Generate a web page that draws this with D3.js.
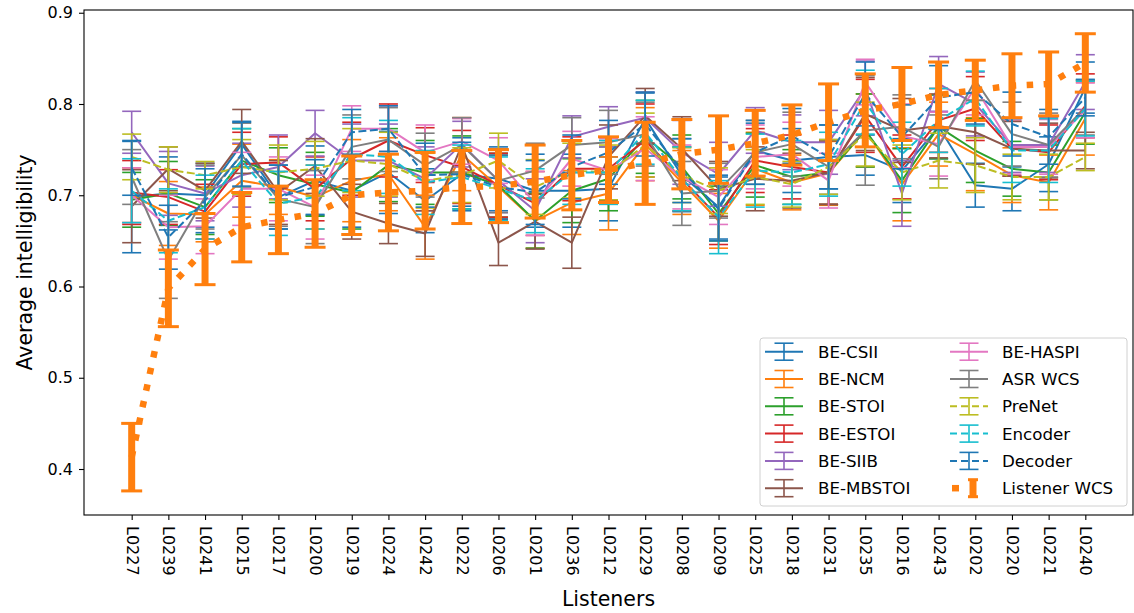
<!DOCTYPE html>
<html>
<head>
<meta charset="utf-8">
<script src="https://cdn.jsdelivr.net/npm/d3@7"></script>
<style>
  body { margin: 0; background: #fff; }
  svg { display: block; font-family: "DejaVu Sans", sans-serif; }
</style>
</head>
<body>
<div id="chart"></div>
<script>
// Listeners (x axis categories)
const listeners = ["L0227", "L0239", "L0241", "L0215", "L0217", "L0200", "L0219", "L0224", "L0242",
  "L0222", "L0206", "L0201", "L0236", "L0212", "L0229", "L0208", "L0209", "L0225", "L0218",
  "L0231", "L0235", "L0216", "L0243", "L0202", "L0220", "L0221", "L0240"];

// Means per series
const beCSII   = [0.698,0.702,0.700,0.756,0.698,0.716,0.705,0.725,0.694,0.723,0.718,0.705,0.705,0.707,0.784,0.722,0.687,0.749,0.738,0.742,0.744,0.727,0.775,0.711,0.707,0.734,0.818];
const beNCM    = [0.700,0.680,0.679,0.716,0.709,0.698,0.716,0.723,0.665,0.745,0.709,0.672,0.692,0.702,0.756,0.714,0.672,0.729,0.714,0.724,0.771,0.712,0.767,0.745,0.722,0.714,0.784];
const beSTOI   = [0.695,0.702,0.687,0.738,0.722,0.712,0.703,0.733,0.725,0.725,0.711,0.672,0.705,0.718,0.764,0.731,0.680,0.733,0.720,0.725,0.771,0.716,0.775,0.749,0.729,0.725,0.791];
const beESTOI  = [0.703,0.698,0.682,0.734,0.736,0.707,0.740,0.760,0.744,0.731,0.711,0.691,0.729,0.729,0.760,0.718,0.676,0.738,0.731,0.725,0.787,0.731,0.782,0.795,0.751,0.747,0.798];
const beSIIB   = [0.769,0.713,0.702,0.722,0.731,0.768,0.738,0.738,0.718,0.756,0.716,0.683,0.764,0.775,0.785,0.747,0.723,0.771,0.758,0.758,0.817,0.702,0.822,0.800,0.755,0.755,0.824];
const beMBSTOI = [0.688,0.729,0.705,0.759,0.703,0.732,0.682,0.669,0.658,0.755,0.648,0.671,0.648,0.742,0.787,0.751,0.707,0.718,0.716,0.725,0.789,0.771,0.776,0.769,0.751,0.749,0.749];
const beHASPI  = [0.700,0.665,0.666,0.707,0.707,0.687,0.773,0.773,0.747,0.759,0.738,0.691,0.740,0.727,0.751,0.720,0.698,0.742,0.745,0.716,0.824,0.765,0.756,0.818,0.753,0.753,0.793];
const asrWCS   = [0.720,0.629,0.698,0.744,0.696,0.687,0.753,0.761,0.733,0.755,0.716,0.727,0.755,0.758,0.767,0.702,0.705,0.747,0.756,0.731,0.771,0.775,0.753,0.826,0.767,0.755,0.796];
const preNet   = [0.742,0.728,0.722,0.731,0.725,0.729,0.738,0.734,0.716,0.722,0.738,0.709,0.727,0.725,0.755,0.722,0.705,0.720,0.712,0.731,0.767,0.725,0.738,0.733,0.720,0.720,0.742];
const encoder  = [0.705,0.672,0.687,0.738,0.691,0.698,0.745,0.742,0.714,0.720,0.707,0.694,0.725,0.725,0.769,0.718,0.676,0.727,0.725,0.734,0.802,0.745,0.782,0.806,0.749,0.749,0.795];
const decoder  = [0.730,0.654,0.694,0.745,0.698,0.709,0.769,0.773,0.722,0.723,0.709,0.703,0.731,0.747,0.778,0.727,0.685,0.747,0.765,0.742,0.811,0.764,0.807,0.813,0.778,0.764,0.807];
const listenerWCS = [0.413,0.598,0.641,0.665,0.673,0.680,0.700,0.703,0.705,0.709,0.710,0.715,0.722,0.728,0.735,0.745,0.750,0.757,0.766,0.780,0.793,0.800,0.810,0.815,0.820,0.822,0.845];

// Error bar half-lengths
const errCSII   = [0.061,0.040,0.035,0.025,0.035,0.038,0.040,0.045,0.035,0.040,0.035,0.040,0.040,0.035,0.028,0.040,0.035,0.030,0.035,0.035,0.022,0.035,0.035,0.024,0.024,0.030,0.028];
const errNCM    = [0.030,0.035,0.030,0.040,0.030,0.035,0.045,0.040,0.035,0.040,0.035,0.030,0.035,0.040,0.040,0.035,0.030,0.040,0.030,0.035,0.040,0.040,0.035,0.040,0.030,0.030,0.040];
const errSTOI   = [0.030,0.035,0.030,0.035,0.030,0.035,0.040,0.040,0.035,0.040,0.035,0.030,0.035,0.035,0.040,0.035,0.030,0.035,0.030,0.035,0.040,0.035,0.035,0.035,0.030,0.030,0.035];
const errESTOI  = [0.035,0.030,0.030,0.035,0.028,0.035,0.040,0.040,0.030,0.040,0.035,0.035,0.035,0.035,0.040,0.035,0.030,0.035,0.035,0.035,0.040,0.035,0.035,0.035,0.030,0.030,0.035];
const errSIIB   = [0.023,0.035,0.030,0.035,0.035,0.025,0.040,0.040,0.035,0.025,0.035,0.035,0.023,0.022,0.028,0.035,0.035,0.025,0.030,0.035,0.030,0.036,0.030,0.035,0.030,0.030,0.030];
const errMBSTOI = [0.040,0.024,0.030,0.035,0.035,0.030,0.030,0.022,0.025,0.030,0.025,0.030,0.028,0.035,0.030,0.035,0.030,0.035,0.030,0.035,0.040,0.035,0.035,0.035,0.030,0.030,0.020];
const errHASPI  = [0.030,0.035,0.030,0.040,0.035,0.035,0.025,0.025,0.030,0.025,0.025,0.035,0.030,0.035,0.035,0.035,0.030,0.035,0.035,0.030,0.025,0.035,0.035,0.030,0.030,0.030,0.030];
const errASR    = [0.030,0.042,0.035,0.035,0.030,0.040,0.035,0.035,0.035,0.030,0.035,0.030,0.030,0.035,0.035,0.035,0.030,0.035,0.035,0.030,0.060,0.035,0.035,0.022,0.035,0.035,0.030];
const errPreNet = [0.025,0.025,0.015,0.030,0.030,0.030,0.035,0.035,0.030,0.030,0.030,0.030,0.030,0.030,0.035,0.030,0.025,0.030,0.025,0.030,0.035,0.030,0.030,0.030,0.025,0.025,0.015];
const errEncoder = [0.035,0.035,0.035,0.035,0.035,0.035,0.040,0.040,0.035,0.035,0.035,0.035,0.035,0.035,0.035,0.035,0.040,0.040,0.035,0.035,0.035,0.035,0.035,0.030,0.035,0.035,0.030];
const errDecoder = [0.030,0.035,0.035,0.035,0.035,0.030,0.025,0.025,0.035,0.035,0.035,0.035,0.035,0.035,0.035,0.035,0.035,0.035,0.030,0.035,0.035,0.035,0.035,0.035,0.035,0.030,0.020];
const errListener = [0.037,0.042,0.039,0.038,0.037,0.037,0.043,0.042,0.042,0.040,0.040,0.040,0.038,0.036,0.045,0.038,0.037,0.036,0.033,0.042,0.040,0.040,0.036,0.033,0.035,0.035,0.032];

const yTicks = [0.4, 0.5, 0.6, 0.7, 0.8, 0.9];

const series = [
  {name: "BE-CSII",   mean: beCSII,   err: errCSII,   color: "#1f77b4", dash: null},
  {name: "BE-NCM",    mean: beNCM,    err: errNCM,    color: "#ff7f0e", dash: null},
  {name: "BE-STOI",   mean: beSTOI,   err: errSTOI,   color: "#2ca02c", dash: null},
  {name: "BE-ESTOI",  mean: beESTOI,  err: errESTOI,  color: "#d62728", dash: null},
  {name: "BE-SIIB",   mean: beSIIB,   err: errSIIB,   color: "#9467bd", dash: null},
  {name: "BE-MBSTOI", mean: beMBSTOI, err: errMBSTOI, color: "#8c564b", dash: null},
  {name: "BE-HASPI",  mean: beHASPI,  err: errHASPI,  color: "#e377c2", dash: null},
  {name: "ASR WCS",   mean: asrWCS,   err: errASR,    color: "#7f7f7f", dash: null},
  {name: "PreNet",    mean: preNet,   err: errPreNet, color: "#bcbd22", dash: "8,3.5"},
  {name: "Encoder",   mean: encoder,  err: errEncoder, color: "#17becf", dash: "8,3.5"},
  {name: "Decoder",   mean: decoder,  err: errDecoder, color: "#1f77b4", dash: "8,3.5"}
];
const listenerSeries = {name: "Listener WCS", mean: listenerWCS, err: errListener, color: "#ff7f0e"};

const W = 1134, H = 613;
const M = {LEFT: 84, RIGHT: 1133, TOP: 10, BOTTOM: 515};

const svg = d3.select("#chart").append("svg").attr("width", W).attr("height", H);
svg.append("rect").attr("width", W).attr("height", H).attr("fill", "#fff");

const x = d3.scaleLinear().domain([-1.3, listeners.length - 1 + 1.3]).range([M.LEFT, M.RIGHT]);
const y = d3.scaleLinear().domain([0.3496, 0.903]).range([M.BOTTOM, M.TOP]);

const plot = svg.append("g");
plot.append("clipPath").attr("id", "clip").append("rect")
  .attr("x", M.LEFT).attr("y", M.TOP).attr("width", M.RIGHT - M.LEFT).attr("height", M.BOTTOM - M.TOP);
const g = plot.append("g").attr("clip-path", "url(#clip)");

const line = d3.line().x((d, i) => x(i)).y(d => y(d));
const CAP = 9.5;

function drawSeries(s, elw, capw, capHalf) {
  const sg = g.append("g");
  const bars = sg.selectAll("g.eb").data(s.mean).join("g");
  bars.append("line")
    .attr("x1", (d, i) => x(i)).attr("x2", (d, i) => x(i))
    .attr("y1", (d, i) => y(d - s.err[i])).attr("y2", (d, i) => y(d + s.err[i]))
    .attr("stroke", s.color).attr("stroke-width", elw);
  [-1, 1].forEach(sign => {
    bars.append("line")
      .attr("x1", (d, i) => x(i) - capHalf).attr("x2", (d, i) => x(i) + capHalf)
      .attr("y1", (d, i) => y(d + sign * s.err[i])).attr("y2", (d, i) => y(d + sign * s.err[i]))
      .attr("stroke", s.color).attr("stroke-width", capw);
  });
  return sg;
}

series.forEach(s => {
  const sg = drawSeries(s, 1.6, 1.6, CAP);
  sg.append("path").datum(s.mean).attr("d", line)
    .attr("fill", "none").attr("stroke", s.color).attr("stroke-width", 2)
    .attr("stroke-dasharray", s.dash).attr("stroke-linejoin", "round");
});

// Listener WCS: thick dotted line with heavy error bars
const lg = drawSeries(listenerSeries, 7, 3, 10.5);
lg.append("path").datum(listenerSeries.mean).attr("d", line)
  .attr("fill", "none").attr("stroke", listenerSeries.color).attr("stroke-width", 6.5)
  .attr("stroke-dasharray", "6.5,10.5");

// Frame
svg.append("rect").attr("x", M.LEFT).attr("y", M.TOP)
  .attr("width", M.RIGHT - M.LEFT).attr("height", M.BOTTOM - M.TOP)
  .attr("fill", "none").attr("stroke", "#000").attr("stroke-width", 1.1);

// Y axis
const yAxis = svg.append("g").attr("transform", `translate(${M.LEFT},0)`)
  .call(d3.axisLeft(y).tickValues(yTicks).tickFormat(d3.format(".1f")).tickSizeOuter(0).tickSize(5).tickPadding(6));
yAxis.select(".domain").remove();
yAxis.selectAll("text").attr("font-size", 16).attr("font-family", "DejaVu Sans").attr("fill", "#000");
yAxis.selectAll("line").attr("stroke", "#000").attr("stroke-width", 1.1);

// X axis
const xAxis = svg.append("g").attr("transform", `translate(0,${M.BOTTOM})`)
  .call(d3.axisBottom(x).tickValues(d3.range(listeners.length)).tickFormat(i => listeners[i]).tickSizeOuter(0).tickSize(5));
xAxis.select(".domain").remove();
xAxis.selectAll("line").attr("stroke", "#000").attr("stroke-width", 1.1);
xAxis.selectAll("text")
  .attr("font-size", 16).attr("font-family", "DejaVu Sans").attr("fill", "#000")
  .attr("text-anchor", "start").attr("dy", null)
  .attr("transform", "translate(0,11) rotate(90)")
  .attr("x", 0).attr("y", 0).attr("dominant-baseline", "central");

// Axis labels
svg.append("text").attr("x", (M.LEFT + M.RIGHT) / 2).attr("y", 606)
  .attr("text-anchor", "middle").attr("font-size", 20.5).text("Listeners");
svg.append("text").attr("transform", `translate(32,${(M.TOP + M.BOTTOM) / 2}) rotate(-90)`)
  .attr("text-anchor", "middle").attr("font-size", 20.5).text("Average intelligibility");

// Legend
const leg = svg.append("g");
leg.append("rect").attr("x", 760).attr("y", 338).attr("width", 367).attr("height", 168)
  .attr("rx", 3).attr("fill", "#fff").attr("fill-opacity", 0.8).attr("stroke", "#d0d0d0");
const legendItems = series.concat([listenerSeries]);
legendItems.forEach((s, k) => {
  const col = Math.floor(k / 6), row = k % 6;
  const hx = col === 0 ? 765 : 950;
  const tx = col === 0 ? 818 : 1002;
  const cy = 351.7 + row * 27.3;
  const cx = hx + 19;
  const item = leg.append("g");
  if (s === listenerSeries) {
    item.append("line").attr("x1", hx + 2).attr("x2", hx + 9).attr("y1", cy).attr("y2", cy)
      .attr("stroke", s.color).attr("stroke-width", 6.5);
    item.append("line").attr("x1", cx + 4).attr("x2", cx + 4).attr("y1", cy - 8.5).attr("y2", cy + 8.5)
      .attr("stroke", s.color).attr("stroke-width", 7);
    [-1, 1].forEach(sg => item.append("line").attr("x1", cx - 1).attr("x2", cx + 9)
      .attr("y1", cy + sg * 8.5).attr("y2", cy + sg * 8.5).attr("stroke", s.color).attr("stroke-width", 3));
  } else {
    item.append("line").attr("x1", hx).attr("x2", hx + 38).attr("y1", cy).attr("y2", cy)
      .attr("stroke", s.color).attr("stroke-width", 2).attr("stroke-dasharray", s.dash ? "7,4" : null);
    item.append("line").attr("x1", cx).attr("x2", cx).attr("y1", cy - 8.5).attr("y2", cy + 8.5)
      .attr("stroke", s.color).attr("stroke-width", 1.6);
    [-1, 1].forEach(sg => item.append("line").attr("x1", cx - 9.5).attr("x2", cx + 9.5)
      .attr("y1", cy + sg * 8.5).attr("y2", cy + sg * 8.5).attr("stroke", s.color).attr("stroke-width", 1.6));
  }
  item.append("text").attr("x", tx).attr("y", cy).attr("dominant-baseline", "central")
    .attr("font-size", 16.7).attr("fill", "#000").text(s.name);
});
</script>
</body>
</html>
